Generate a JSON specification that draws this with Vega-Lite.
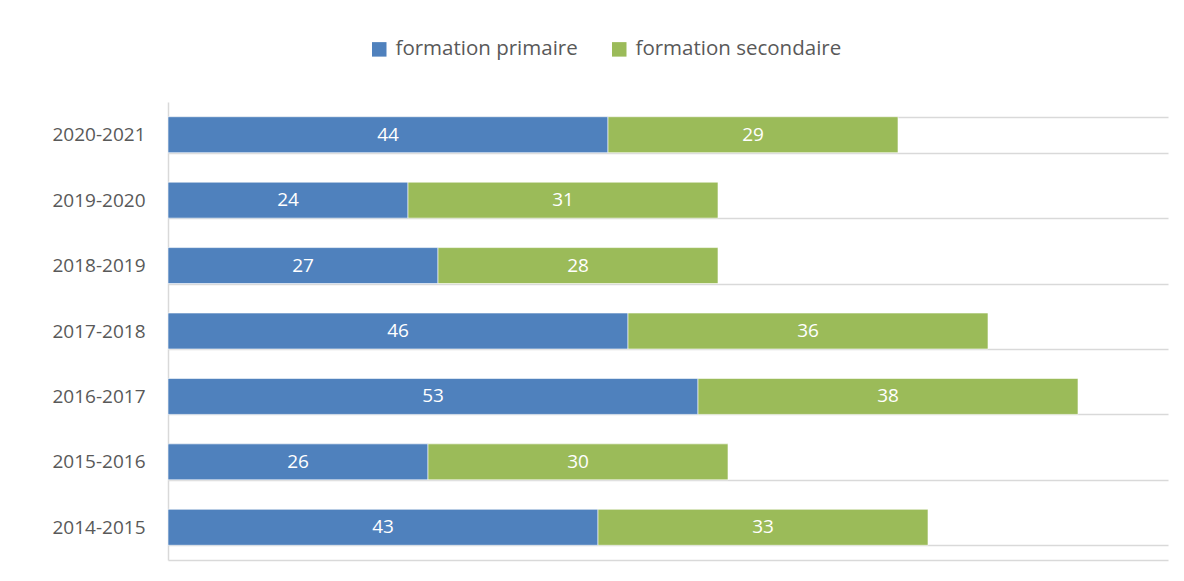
{
  "$schema": "https://vega.github.io/schema/vega-lite/v6.json",
  "autosize": "none",
  "width": 1000,
  "height": 458,
  "padding": {"left": 168, "top": 102, "right": 16, "bottom": 21},
  "background": "white",
  "config": {"view": {"stroke": null}},
  "data": {
    "values": [
      {"annee": "2020-2021", "type": "formation primaire", "valeur": 44},
      {"annee": "2020-2021", "type": "formation secondaire", "valeur": 29},
      {"annee": "2019-2020", "type": "formation primaire", "valeur": 24},
      {"annee": "2019-2020", "type": "formation secondaire", "valeur": 31},
      {"annee": "2018-2019", "type": "formation primaire", "valeur": 27},
      {"annee": "2018-2019", "type": "formation secondaire", "valeur": 28},
      {"annee": "2017-2018", "type": "formation primaire", "valeur": 46},
      {"annee": "2017-2018", "type": "formation secondaire", "valeur": 36},
      {"annee": "2016-2017", "type": "formation primaire", "valeur": 53},
      {"annee": "2016-2017", "type": "formation secondaire", "valeur": 38},
      {"annee": "2015-2016", "type": "formation primaire", "valeur": 26},
      {"annee": "2015-2016", "type": "formation secondaire", "valeur": 30},
      {"annee": "2014-2015", "type": "formation primaire", "valeur": 43},
      {"annee": "2014-2015", "type": "formation secondaire", "valeur": 33}
    ]
  },
  "transform": [
    {"stack": "valeur", "groupby": ["annee"], "sort": [{"field": "type", "order": "ascending"}], "as": ["v0", "v1"]},
    {"calculate": "(datum.v0 + datum.v1) / 2", "as": "mid"}
  ],
  "encoding": {
    "y": {
      "field": "annee",
      "type": "nominal",
      "sort": "descending",
      "scale": {"paddingInner": 0.45, "paddingOuter": 0.225},
      "axis": {
        "title": null,
        "tickBand": "extent",
        "grid": true,
        "gridColor": "#d9d9d9",
        "gridWidth": 1.5,
        "ticks": false,
        "domain": true,
        "domainColor": "#d9d9d9",
        "domainWidth": 1.5,
        "labelFont": "Open Sans",
        "labelFontSize": 19,
        "labelColor": "#595959",
        "labelPadding": 23
      }
    }
  },
  "layer": [
    {
      "mark": {"type": "bar", "stroke": "white", "strokeWidth": 0.6},
      "encoding": {
        "x": {
          "field": "v0",
          "type": "quantitative",
          "scale": {"domain": [0, 100], "nice": false},
          "axis": {
            "title": null,
            "labels": false,
            "ticks": false,
            "grid": false,
            "domain": true,
            "domainColor": "#d9d9d9",
            "domainWidth": 1.5
          }
        },
        "x2": {"field": "v1"},
        "color": {
          "field": "type",
          "type": "nominal",
          "scale": {
            "domain": ["formation primaire", "formation secondaire"],
            "range": ["#4f81bd", "#9bbb59"]
          },
          "legend": {
            "title": null,
            "orient": "none",
            "direction": "horizontal",
            "legendX": 201,
            "legendY": -63,
            "symbolType": "square",
            "symbolSize": 210,
            "symbolStrokeWidth": 0,
            "symbolOpacity": 1,
            "labelFont": "Open Sans",
            "labelFontSize": 20.5,
            "labelLimit": 0,
            "labelColor": "#595959",
            "labelOffset": 6,
            "columnPadding": 31
          }
        }
      }
    },
    {
      "mark": {"type": "text", "color": "white", "font": "Open Sans", "fontSize": 19, "baseline": "middle", "align": "center"},
      "encoding": {
        "x": {"field": "mid", "type": "quantitative"},
        "text": {"field": "valeur", "type": "quantitative"}
      }
    }
  ]
}
